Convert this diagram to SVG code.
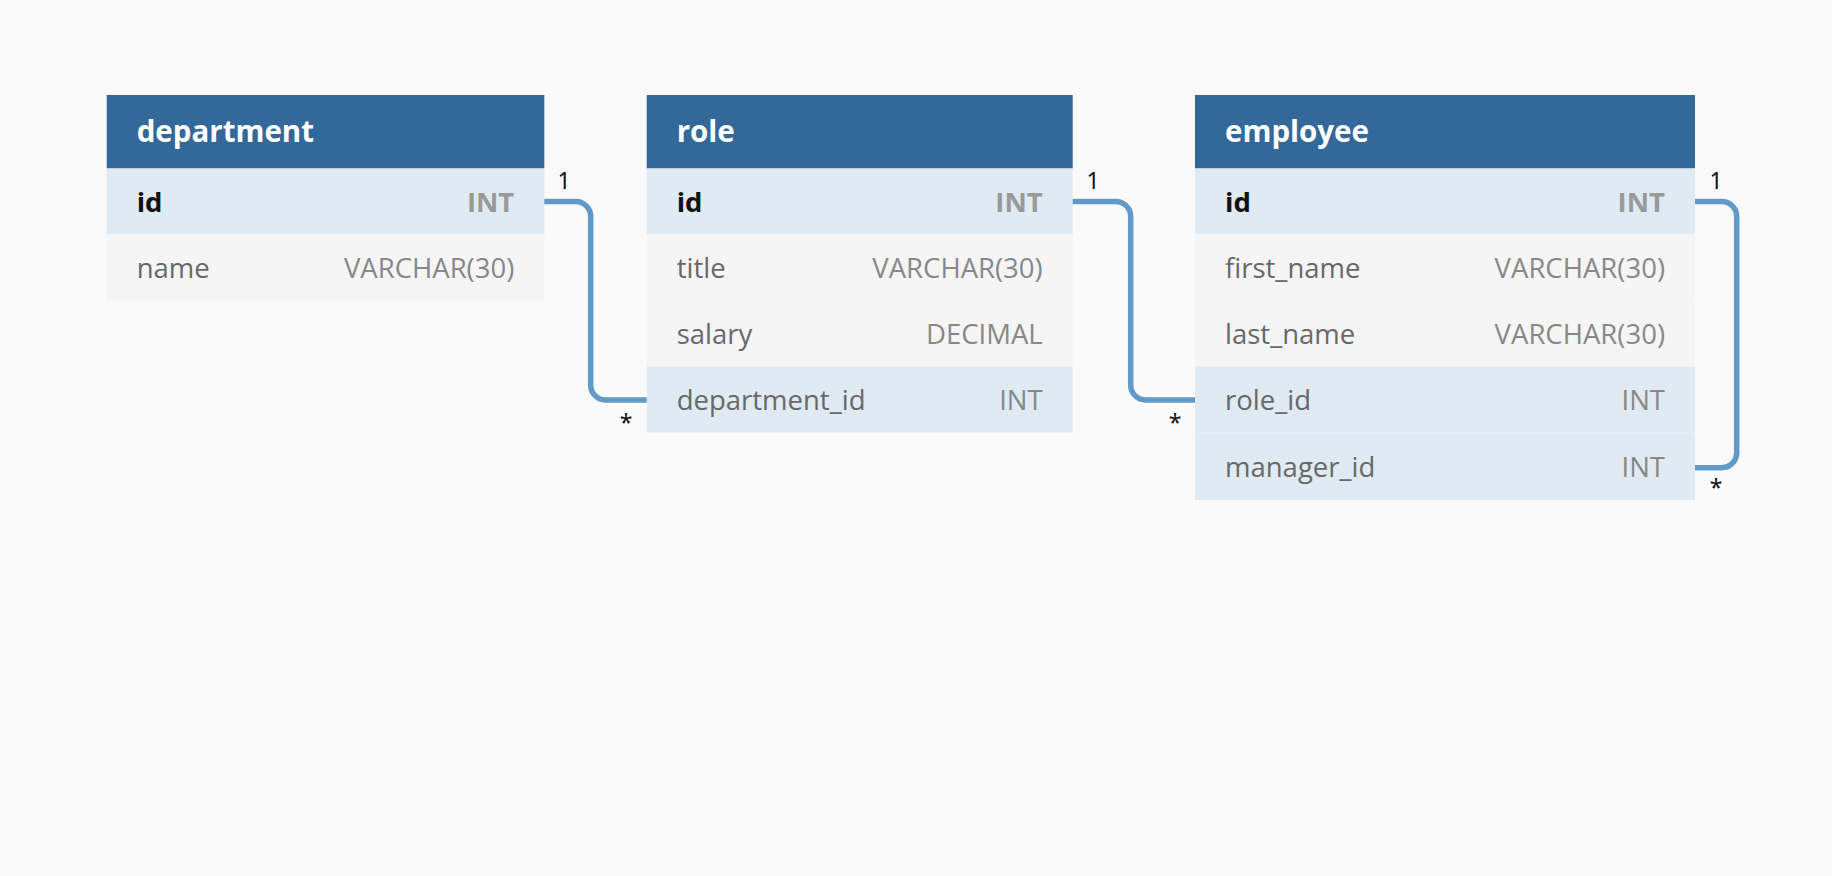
<svg xmlns="http://www.w3.org/2000/svg" width="1832" height="876" viewBox="0 0 1832 876">
  <style>
    .hdr { fill: #33689a; }
    .key { fill: #dfeaf3; }
    .row { fill: #f5f5f5; }
    .title { font-family: "Open Sans", "Liberation Sans", sans-serif; font-weight: 700; font-size: 29.5px; fill: #ffffff; }
    .fname { font-family: "Open Sans", "Liberation Sans", sans-serif; font-size: 27.5px; fill: #686868; }
    .fname.pk { font-weight: 700; fill: #111111; }
    .ftype { font-family: "Open Sans", "Liberation Sans", sans-serif; font-size: 27.5px; fill: #888888; text-anchor: end; }
    .ftype.pk { font-weight: 700; fill: #999999; }
    .link { fill: none; stroke: #6199c9; stroke-width: 5.5; }
    .card { font-family: "Noto Sans", "Open Sans", sans-serif; font-size: 23px; fill: #111111; text-anchor: middle; }
  </style>
  <rect width="1832" height="876" fill="#fafafa"/>

  <!-- department table -->
  <g id="department">
    <rect class="hdr" x="106.7" y="95" width="437.6" height="73.5"/>
    <rect class="key" x="106.7" y="168.5" width="437.6" height="66"/>
    <rect class="row" x="106.7" y="234.5" width="437.6" height="66"/>
    <text class="title" x="136.7" y="142">department</text>
    <text class="fname pk" x="136.7" y="211.5">id</text>
    <text class="ftype pk" x="514.3" y="211.5">INT</text>
    <text class="fname" x="136.7" y="277.5">name</text>
    <text class="ftype" x="514.3" y="277.5">VARCHAR(30)</text>
  </g>

  <!-- role table -->
  <g id="role">
    <rect class="hdr" x="646.7" y="95" width="426" height="73.5"/>
    <rect class="key" x="646.7" y="168.5" width="426" height="66"/>
    <rect class="row" x="646.7" y="234.5" width="426" height="66"/>
    <rect class="row" x="646.7" y="300.5" width="426" height="66"/>
    <rect class="key" x="646.7" y="366.5" width="426" height="66"/>
    <text class="title" x="676.7" y="142">role</text>
    <text class="fname pk" x="676.7" y="211.5">id</text>
    <text class="ftype pk" x="1042.7" y="211.5">INT</text>
    <text class="fname" x="676.7" y="277.5">title</text>
    <text class="ftype" x="1042.7" y="277.5">VARCHAR(30)</text>
    <text class="fname" x="676.7" y="343.5">salary</text>
    <text class="ftype" x="1042.7" y="343.5">DECIMAL</text>
    <text class="fname" x="676.7" y="409.5">department_id</text>
    <text class="ftype" x="1042.7" y="409.5">INT</text>
  </g>

  <!-- employee table -->
  <g id="employee">
    <rect class="hdr" x="1195" y="95" width="500" height="73.5"/>
    <rect class="key" x="1195" y="168.5" width="500" height="66"/>
    <rect class="row" x="1195" y="234.5" width="500" height="66"/>
    <rect class="row" x="1195" y="300.5" width="500" height="66"/>
    <rect class="key" x="1195" y="366.5" width="500" height="66"/>
    <rect class="key" x="1195" y="432.5" width="500" height="67.5"/>
    <text class="title" x="1225" y="142">employee</text>
    <text class="fname pk" x="1225" y="211.5">id</text>
    <text class="ftype pk" x="1665" y="211.5">INT</text>
    <text class="fname" x="1225" y="277.5">first_name</text>
    <text class="ftype" x="1665" y="277.5">VARCHAR(30)</text>
    <text class="fname" x="1225" y="343.5">last_name</text>
    <text class="ftype" x="1665" y="343.5">VARCHAR(30)</text>
    <text class="fname" x="1225" y="409.5">role_id</text>
    <text class="ftype" x="1665" y="409.5">INT</text>
    <text class="fname" x="1225" y="476.5">manager_id</text>
    <text class="ftype" x="1665" y="476.5">INT</text>
  </g>

  <!-- relationships -->
  <g id="connectors">
    <path class="link" d="M544.3,201.5 H575.7 A15,15 0 0 1 590.7,216.5 V385 A15,15 0 0 0 605.7,400 H646.7"/>
    <path class="link" d="M1072.7,201.5 H1115.7 A15,15 0 0 1 1130.7,216.5 V385 A15,15 0 0 0 1145.7,400 H1195"/>
    <path class="link" d="M1695,201.5 H1721.7 A15,15 0 0 1 1736.7,216.5 V452.7 A15,15 0 0 1 1721.7,467.7 H1695"/>
    <text class="card" x="564" y="189">1</text>
    <text class="card" x="626" y="431">*</text>
    <text class="card" x="1093" y="189">1</text>
    <text class="card" x="1175" y="431">*</text>
    <text class="card" x="1716" y="189">1</text>
    <text class="card" x="1716" y="496">*</text>
  </g>
</svg>
